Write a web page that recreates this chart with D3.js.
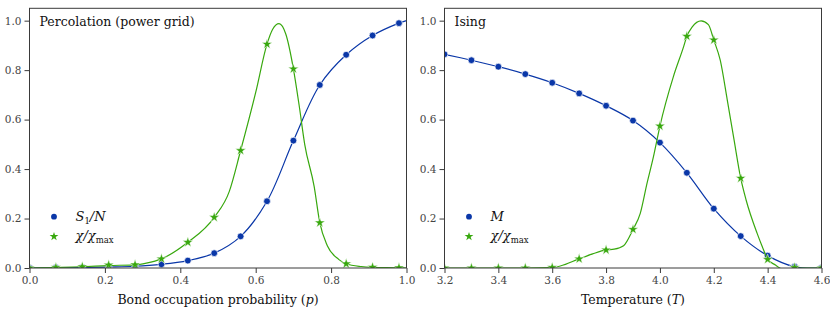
<!DOCTYPE html>
<html><head><meta charset="utf-8">
<script src="https://cdn.jsdelivr.net/npm/d3@7"></script>
<style>
html,body{margin:0;padding:0;background:#fff;}
svg{display:block;}
</style></head>
<body>
<svg id="chart" width="830" height="312"></svg>
<script>
// ---------- DATA ----------
// Percolation (power grid)
const percP   = [0, 0.07, 0.14, 0.21, 0.28, 0.35, 0.42, 0.49, 0.56, 0.63, 0.70, 0.77, 0.84, 0.91, 0.98];
const percS   = [0.000, 0.001, 0.002, 0.004, 0.007, 0.015, 0.030, 0.060, 0.128, 0.270, 0.515, 0.740, 0.862, 0.940, 0.990];
const percChi = [0.000, 0.002, 0.005, 0.012, 0.013, 0.037, 0.104, 0.205, 0.475, 0.905, 0.805, 0.183, 0.017, 0.003, 0.001];
// smooth fitted curves
const percSCurveP   = [0, 0.07, 0.14, 0.21, 0.28, 0.35, 0.42, 0.49, 0.56, 0.63, 0.70, 0.77, 0.84, 0.91, 0.98, 1.0];
const percSCurveV   = [0.000, 0.001, 0.002, 0.004, 0.007, 0.015, 0.030, 0.060, 0.128, 0.270, 0.515, 0.740, 0.862, 0.940, 0.990, 1.000];
const percChiCurveP = [0, 0.07, 0.14, 0.21, 0.28, 0.31, 0.35, 0.42, 0.49, 0.53, 0.56, 0.60, 0.63, 0.645, 0.662, 0.68, 0.70, 0.715, 0.73, 0.755, 0.77, 0.79, 0.82, 0.84, 0.88, 0.91, 0.98, 1.0];
const percChiCurveV = [0, 0.002, 0.005, 0.010, 0.013, 0.020, 0.037, 0.104, 0.205, 0.310, 0.475, 0.710, 0.905, 0.965, 0.988, 0.945, 0.805, 0.660, 0.500, 0.330, 0.183, 0.090, 0.035, 0.017, 0.006, 0.003, 0.001, 0.000];

// Ising
const isingT   = [3.2, 3.3, 3.4, 3.5, 3.6, 3.7, 3.8, 3.9, 4.0, 4.1, 4.2, 4.3, 4.4, 4.5, 4.6];
const isingM   = [0.864, 0.840, 0.814, 0.784, 0.749, 0.706, 0.656, 0.596, 0.507, 0.385, 0.240, 0.129, 0.050, 0.005, 0.000];
const isingChi = [0.000, 0.000, 0.000, 0.000, 0.002, 0.037, 0.073, 0.156, 0.574, 0.937, 0.922, 0.363, 0.035, 0.002, 0.000];
const isingChiCurveT = [3.2, 3.3, 3.4, 3.5, 3.6, 3.63, 3.7, 3.75, 3.8, 3.83, 3.865, 3.9, 3.927, 3.952, 3.976, 4.0, 4.05, 4.088, 4.1, 4.12, 4.153, 4.18, 4.2, 4.224, 4.25, 4.275, 4.3, 4.32, 4.361, 4.385, 4.4, 4.429, 4.445, 4.47, 4.5, 4.6];
const isingChiCurveV = [0, 0, 0, 0, 0.002, 0.008, 0.037, 0.057, 0.073, 0.076, 0.090, 0.156, 0.221, 0.342, 0.450, 0.574, 0.774, 0.895, 0.937, 0.975, 0.999, 0.984, 0.922, 0.840, 0.680, 0.520, 0.363, 0.275, 0.140, 0.073, 0.035, 0.012, 0.000, -0.015, 0.000, 0.000];

const yTicks = [0.0, 0.2, 0.4, 0.6, 0.8, 1.0];
const percXTicks = [0.0, 0.2, 0.4, 0.6, 0.8, 1.0];
const isingXTicks = [3.2, 3.4, 3.6, 3.8, 4.0, 4.2, 4.4, 4.6];

// ---------- STYLE ----------
const BLUE = "#0a37a8";
const GREEN = "#38a80e";
const FRAME = "#3a3a3a";
const SERIF = "'DejaVu Serif', serif";

const svg = d3.select("#chart");
const plotTop = 8.3, plotBottom = 268;
const y = d3.scaleLinear().domain([0, 1.05]).range([plotBottom, plotTop]);

function panel(cfg) {
  const x = d3.scaleLinear().domain(cfg.xDomain).range([cfg.left, cfg.right]);
  const g = svg.append("g");
  const clipId = "clip" + cfg.id;
  svg.append("defs").append("clipPath").attr("id", clipId)
    .append("rect").attr("x", cfg.left).attr("y", plotTop)
    .attr("width", cfg.right - cfg.left).attr("height", plotBottom - plotTop);

  // axes
  const ya = g.append("g").attr("transform", `translate(${cfg.left},0)`)
    .call(d3.axisLeft(y).tickValues(yTicks).tickFormat(d3.format(".1f")).tickSize(5).tickPadding(3));
  const xa = g.append("g").attr("transform", `translate(0,${plotBottom})`)
    .call(d3.axisBottom(x).tickValues(cfg.xTicks).tickFormat(d3.format(".1f")).tickSize(5).tickPadding(4));
  [ya, xa].forEach(a => {
    a.attr("font-family", SERIF).attr("font-size", 10.5);
    a.select(".domain").remove();
    a.selectAll(".tick line").attr("stroke", FRAME).attr("stroke-width", 1);
    a.selectAll(".tick text").attr("fill", "#444");
  });

  const plot = g.append("g").attr("clip-path", `url(#${clipId})`);
  const lineGen = (curve) => d3.line().x(d => x(d[0])).y(d => y(d[1])).curve(curve);

  // blue
  const sCurve = d3.zip(cfg.sCurveX, cfg.sCurveV);
  plot.append("path").datum(sCurve).attr("d", lineGen(d3.curveCatmullRom.alpha(0.5)))
    .attr("fill", "none").attr("stroke", BLUE).attr("stroke-width", 1.2);
  plot.selectAll(".dotS").data(d3.zip(cfg.xs, cfg.s)).join("circle")
    .attr("cx", d => x(d[0])).attr("cy", d => y(d[1])).attr("r", 3.4)
    .attr("fill", BLUE).attr("stroke", "#fff").attr("stroke-width", 0.7);

  // green
  const cCurve = d3.zip(cfg.cCurveX, cfg.cCurveV);
  plot.append("path").datum(cCurve).attr("d", lineGen(d3.curveMonotoneX))
    .attr("fill", "none").attr("stroke", GREEN).attr("stroke-width", 1.2);
  const star = d3.symbol().type(d3.symbolStar).size(34);
  plot.selectAll(".starC").data(d3.zip(cfg.xs, cfg.chi)).join("path")
    .attr("d", star).attr("transform", d => `translate(${x(d[0])},${y(d[1])})`)
    .attr("fill", GREEN).attr("stroke", "#fff").attr("stroke-width", 0.5);

  // frame
  g.append("rect").attr("x", cfg.left).attr("y", plotTop)
    .attr("width", cfg.right - cfg.left).attr("height", plotBottom - plotTop)
    .attr("fill", "none").attr("stroke", FRAME).attr("stroke-width", 1);

  // title
  g.append("text").attr("x", cfg.left + 10).attr("y", 26)
    .style("font-family", SERIF).style("font-size", "12.5px").attr("fill", "#111")
    .text(cfg.title);

  // x label
  const xl = g.append("text").attr("x", (cfg.left + cfg.right) / 2).attr("y", 304)
    .attr("text-anchor", "middle")
    .style("font-family", SERIF).style("font-size", "12.5px").attr("fill", "#111");
  xl.append("tspan").text(cfg.xLabel + " (");
  xl.append("tspan").style("font-style", "italic").text(cfg.xVar);
  xl.append("tspan").text(")");

  // legend
  const lx = cfg.left + 24.5, tx = cfg.left + 46;
  g.append("circle").attr("cx", lx).attr("cy", 216.7).attr("r", 2.9).attr("fill", BLUE);
  g.append("path").attr("d", d3.symbol().type(d3.symbolStar).size(24))
    .attr("transform", `translate(${lx},236.5)`).attr("fill", GREEN);
  const lt1 = g.append("text").attr("x", tx).attr("y", 221)
    .style("font-family", SERIF).style("font-size", "13px").attr("fill", "#111");
  cfg.legend1(lt1);
  const lt2 = g.append("text").attr("x", tx).attr("y", 240)
    .style("font-family", SERIF).style("font-size", "13px").attr("fill", "#111");
  lt2.append("tspan").style("font-style", "italic").text("χ/χ");
  lt2.append("tspan").attr("dy", 2.5).style("font-size", "8.5px").text("max");
}

panel({
  id: "L", left: 29.5, right: 406.5, xDomain: [0, 1], xTicks: percXTicks,
  xs: percP, s: percS, chi: percChi,
  sCurveX: percSCurveP, sCurveV: percSCurveV,
  cCurveX: percChiCurveP, cCurveV: percChiCurveV,
  title: "Percolation (power grid)", xLabel: "Bond occupation probability", xVar: "p",
  legend1: t => {
    t.append("tspan").style("font-style", "italic").text("S");
    t.append("tspan").attr("dy", 2.5).style("font-size", "8.5px").text("1");
    t.append("tspan").attr("dy", -2.5).style("font-style", "italic").text("/N");
  }
});
panel({
  id: "R", left: 444.5, right: 821.5, xDomain: [3.2, 4.6], xTicks: isingXTicks,
  xs: isingT, s: isingM, chi: isingChi,
  sCurveX: isingT, sCurveV: isingM,
  cCurveX: isingChiCurveT, cCurveV: isingChiCurveV,
  title: "Ising", xLabel: "Temperature", xVar: "T",
  legend1: t => { t.append("tspan").style("font-style", "italic").text("M"); }
});
</script>
</body></html>
